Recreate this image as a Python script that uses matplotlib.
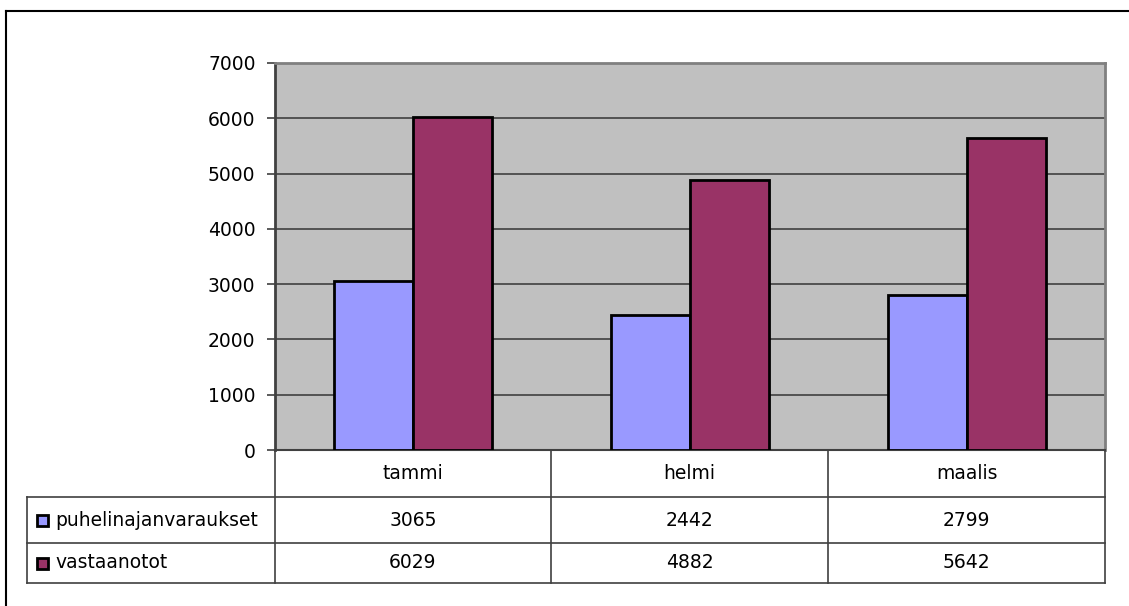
import matplotlib
matplotlib.use("Agg")
import matplotlib.pyplot as plt
from matplotlib.patches import Rectangle
import numpy as np

months = ["tammi", "helmi", "maalis"]
series_names = ["puhelinajanvaraukset", "vastaanotot"]
puhelinajanvaraukset = [3065, 2442, 2799]
vastaanotot = [6029, 4882, 5642]
y_ticks = [0, 1000, 2000, 3000, 4000, 5000, 6000, 7000]

colors = ["#9999FF", "#993366"]
series = [puhelinajanvaraukset, vastaanotot]

W, H = 1129, 606
fig = plt.figure(figsize=(W / 100, H / 100), dpi=100)
plt.rcParams["font.family"] = ["DejaVu Sans"]
FS = 13.5

# pixel-space helper
def fx(x):
    return x / W

def fy(y):
    return 1 - y / H

# plot area
left, right, top, bottom = 275, 1105, 63, 450
ax = fig.add_axes([fx(left), fy(bottom), fx(right - left), (bottom - top) / H])
ax.set_facecolor("#C0C0C0")
ax.set_xlim(0, len(months))
ax.set_ylim(0, 7000)

bar_w = 1 / 3.5
x = np.arange(len(months)) + 0.5
for i, (vals, c) in enumerate(zip(series, colors)):
    ax.bar(x + (i - 0.5) * bar_w, vals, width=bar_w, color=c,
           edgecolor="black", linewidth=2, zorder=3)

ax.set_yticks(y_ticks)
ax.set_yticklabels([str(v) for v in y_ticks], fontsize=FS)
ax.yaxis.grid(True, color="#404040", linewidth=1.2, zorder=1)
ax.set_axisbelow(True)
ax.set_xticks([])
ax.tick_params(axis="y", length=6, width=1.2, color="#404040", pad=8)
for s in ["top", "right"]:
    ax.spines[s].set_color("#808080")
    ax.spines[s].set_linewidth(2)
ax.spines["left"].set_color("#404040")
ax.spines["left"].set_linewidth(2)
ax.spines["bottom"].set_color("#404040")
ax.spines["bottom"].set_linewidth(1.5)

# overlay for the data table and outer frame
ov = fig.add_axes([0, 0, 1, 1], facecolor="none")
ov.set_xlim(0, W)
ov.set_ylim(H, 0)
ov.axis("off")

line_kw = dict(color="#404040", linewidth=1.2)
# outer chart frame (top and left edges)
ov.plot([6, W], [11, 11], color="black", linewidth=1.5)
ov.plot([6, 6], [11, H], color="black", linewidth=1.5)

col_edges = [275, 551, 828, 1105]
row_edges = [450, 497, 543, 583]
leg_left = 27

# horizontal lines
ov.plot([leg_left, right], [row_edges[1], row_edges[1]], **line_kw)
ov.plot([leg_left, right], [row_edges[2], row_edges[2]], **line_kw)
ov.plot([leg_left, right], [row_edges[3], row_edges[3]], **line_kw)
# vertical lines
for cx in col_edges:
    ov.plot([cx, cx], [row_edges[0], row_edges[3]], **line_kw)
ov.plot([leg_left, leg_left], [row_edges[1], row_edges[3]], **line_kw)

# category row
for j, m in enumerate(months):
    cx = (col_edges[j] + col_edges[j + 1]) / 2
    ov.text(cx, (row_edges[0] + row_edges[1]) / 2, m, ha="center",
            va="center", fontsize=FS)

# series rows
for i, (name, vals, c) in enumerate(zip(series_names, series, colors)):
    cy = (row_edges[i + 1] + row_edges[i + 2]) / 2
    ov.add_patch(Rectangle((37, cy - 5.5), 11, 11, facecolor=c,
                           edgecolor="black", linewidth=2))
    ov.text(55, cy, name, ha="left", va="center", fontsize=FS)
    for j, v in enumerate(vals):
        cx = (col_edges[j] + col_edges[j + 1]) / 2
        ov.text(cx, cy, str(v), ha="center", va="center", fontsize=FS)

fig.savefig("out.png", dpi=100)
